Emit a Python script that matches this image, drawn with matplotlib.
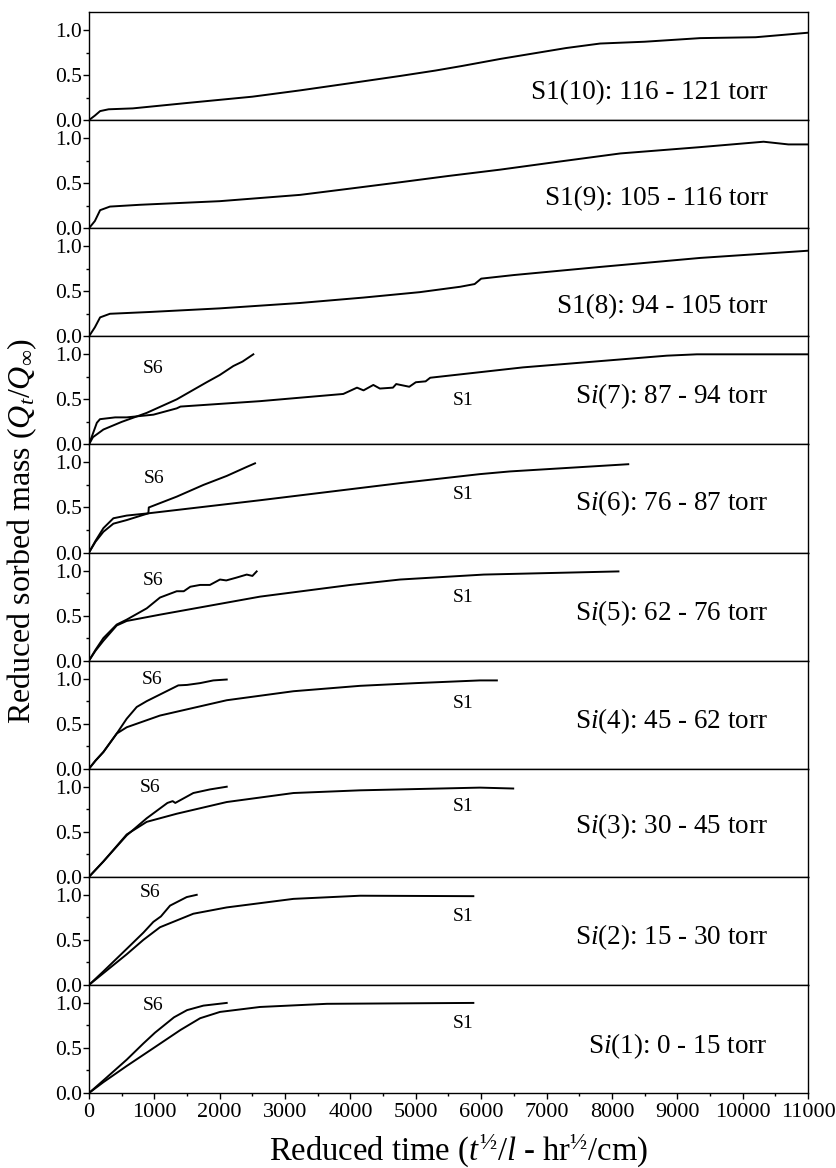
import matplotlib
matplotlib.use('Agg')
import matplotlib.pyplot as plt
from matplotlib.ticker import MultipleLocator, FormatStrFormatter

plt.rcParams['font.family'] = 'Liberation Serif'
plt.rcParams['mathtext.fontset'] = 'custom'
plt.rcParams['mathtext.rm'] = 'Liberation Serif'
plt.rcParams['mathtext.it'] = 'Liberation Serif:italic'

# panel labels, top to bottom
panel_labels = ["S1(10): 116 - 121 torr", "S1(9): 105 - 116 torr", "S1(8): 94 - 105 torr",
                "S$i$(7): 87 - 94 torr", "S$i$(6): 76 - 87 torr", "S$i$(5): 62 - 76 torr",
                "S$i$(4): 45 - 62 torr", "S$i$(3): 30 - 45 torr", "S$i$(2): 15 - 30 torr",
                "S$i$(1): 0 - 15 torr"]

# S1 curves (reduced time, reduced mass)
s1_10_x = [0, 90, 170, 300, 670, 1500, 2500, 3230, 4000, 4760, 5300, 5700, 6300, 6800, 7300, 7820, 8500, 9350, 10200, 11000]
s1_10_y = [0, 0.05, 0.10, 0.12, 0.13, 0.19, 0.26, 0.33, 0.41, 0.49, 0.55, 0.60, 0.68, 0.74, 0.80, 0.85, 0.87, 0.91, 0.92, 0.97]

s1_9_x = [0, 90, 170, 320, 780, 2000, 3230, 4000, 4760, 5500, 6290, 7200, 8130, 9350, 10320, 10700, 11000]
s1_9_y = [0, 0.08, 0.20, 0.24, 0.26, 0.30, 0.37, 0.44, 0.51, 0.58, 0.65, 0.74, 0.83, 0.90, 0.96, 0.93, 0.93]

s1_8_x = [0, 90, 170, 320, 930, 2000, 3230, 4200, 5060, 5680, 5900, 6000, 6500, 7820, 9350, 11000]
s1_8_y = [0, 0.10, 0.21, 0.25, 0.27, 0.31, 0.37, 0.43, 0.49, 0.55, 0.58, 0.64, 0.68, 0.77, 0.87, 0.95]

s1_7_x = [0, 60, 120, 168, 400, 577, 985, 1342, 1400, 2616, 3890, 3950, 4100, 4200, 4350, 4450, 4650,
          4700, 4900, 5000, 5150, 5220, 6640, 8840, 9300, 11000]
s1_7_y = [0, 0.12, 0.24, 0.28, 0.30, 0.30, 0.33, 0.40, 0.42, 0.48, 0.56, 0.58, 0.63, 0.60, 0.66, 0.62, 0.63,
          0.67, 0.64, 0.69, 0.70, 0.74, 0.855, 0.985, 1.0, 1.0]

s1_6_x = [0, 100, 220, 373, 577, 908, 2616, 4760, 5980, 6440, 8250]
s1_6_y = [0, 0.12, 0.23, 0.32, 0.36, 0.435, 0.58, 0.77, 0.87, 0.90, 0.98]

s1_5_x = [0, 100, 220, 424, 577, 1086, 2616, 4000, 4760, 6040, 8100]
s1_5_y = [0, 0.11, 0.22, 0.39, 0.44, 0.51, 0.71, 0.84, 0.90, 0.955, 0.99]

s1_4_x = [0, 100, 220, 424, 577, 1086, 2107, 3128, 4148, 5000, 5980, 6240]
s1_4_y = [0, 0.09, 0.185, 0.39, 0.46, 0.59, 0.76, 0.86, 0.92, 0.95, 0.98, 0.98]

s1_3_x = [0, 220, 577, 883, 1342, 2107, 3128, 4148, 5980, 6490]
s1_3_y = [0, 0.17, 0.47, 0.61, 0.70, 0.83, 0.93, 0.96, 0.99, 0.98]

s1_2_x = [0, 220, 577, 832, 1086, 1596, 2107, 3128, 4148, 5880]
s1_2_y = [0, 0.13, 0.34, 0.50, 0.64, 0.79, 0.86, 0.955, 0.99, 0.985]

s1_1_x = [0, 220, 577, 1010, 1400, 1700, 2004, 2616, 3640, 5880]
s1_1_y = [0, 0.12, 0.30, 0.51, 0.70, 0.83, 0.90, 0.955, 0.99, 1.0]

# S6 curves
s6_7_x = [0, 60, 220, 500, 883, 1342, 1800, 2000, 2208, 2350, 2514]
s6_7_y = [0, 0.08, 0.165, 0.25, 0.35, 0.50, 0.69, 0.77, 0.87, 0.92, 1.0]

s6_6_x = [0, 100, 220, 373, 577, 908, 915, 1342, 1750, 2107, 2413, 2540]
s6_6_y = [0, 0.13, 0.27, 0.38, 0.41, 0.435, 0.50, 0.62, 0.75, 0.85, 0.95, 0.99]

s6_5_x = [0, 100, 220, 424, 577, 883, 1086, 1342, 1450, 1550, 1700, 1850, 2004, 2100, 2250, 2413, 2500, 2565]
s6_5_y = [0, 0.12, 0.25, 0.40, 0.455, 0.58, 0.70, 0.77, 0.77, 0.82, 0.84, 0.84, 0.90, 0.89, 0.92, 0.955, 0.94, 0.99]

s6_4_x = [0, 100, 220, 424, 577, 730, 883, 1366, 1500, 1700, 1902, 2107]
s6_4_y = [0, 0.09, 0.185, 0.39, 0.555, 0.685, 0.75, 0.925, 0.93, 0.95, 0.98, 0.99]

s6_3_x = [0, 220, 577, 883, 1200, 1280, 1320, 1596, 1850, 2107]
s6_3_y = [0, 0.17, 0.46, 0.65, 0.82, 0.84, 0.82, 0.93, 0.97, 1.0]

s6_2_x = [0, 220, 577, 832, 985, 1100, 1240, 1495, 1648]
s6_2_y = [0, 0.15, 0.40, 0.58, 0.70, 0.76, 0.88, 0.975, 1.0]

s6_1_x = [0, 220, 577, 832, 1010, 1300, 1500, 1750, 2107]
s6_1_y = [0, 0.14, 0.37, 0.55, 0.67, 0.84, 0.92, 0.97, 1.0]

s1_curves = [(s1_10_x, s1_10_y), (s1_9_x, s1_9_y), (s1_8_x, s1_8_y), (s1_7_x, s1_7_y),
             (s1_6_x, s1_6_y), (s1_5_x, s1_5_y), (s1_4_x, s1_4_y), (s1_3_x, s1_3_y),
             (s1_2_x, s1_2_y), (s1_1_x, s1_1_y)]
s6_curves = [None, None, None, (s6_7_x, s6_7_y), (s6_6_x, s6_6_y), (s6_5_x, s6_5_y),
             (s6_4_x, s6_4_y), (s6_3_x, s6_3_y), (s6_2_x, s6_2_y), (s6_1_x, s6_1_y)]

# where the text sits in each panel (data y)
label_y = [0.31, 0.33, 0.33, 0.54, 0.55, 0.53, 0.53, 0.56, 0.53, 0.52]
s6_label_pos = [None, None, None, (985, 0.84), (1000, 0.82), (985, 0.89), (960, 0.99), (940, 0.99), (940, 1.03), (985, 0.97)]
s1_label_y = [None, None, None, 0.49, 0.64, 0.70, 0.72, 0.78, 0.76, 0.77]

fig, axes = plt.subplots(10, 1, figsize=(8.37, 11.68), dpi=100, sharex=True)
fig.subplots_adjust(left=89/837, right=808/837, top=1-12/1168, bottom=1-1093/1168, hspace=0)

for i, ax in enumerate(axes):
    x, y = s1_curves[i]
    ax.plot(x, y, color='k', lw=1.4)
    if s6_curves[i] is not None:
        ax.plot(s6_curves[i][0], s6_curves[i][1], color='k', lw=1.4)
        ax.text(s6_label_pos[i][0], s6_label_pos[i][1], 'S6', fontsize=14, ha='center', va='center')
        ax.text(5720, s1_label_y[i], 'S1', fontsize=14, ha='center', va='center')
    ax.text(0.944, label_y[i], panel_labels[i], transform=ax.get_yaxis_transform(),
            fontsize=19.5, ha='right', va='center')

    ax.set_xlim(0, 11000)
    ax.set_ylim(0, 1.2)
    ax.yaxis.set_major_locator(MultipleLocator(0.5))
    ax.yaxis.set_minor_locator(MultipleLocator(0.25))
    ax.yaxis.set_major_formatter(FormatStrFormatter('%.1f'))
    ax.tick_params(axis='y', which='major', direction='out', length=4, width=1, labelsize=15.5, pad=1)
    ax.tick_params(axis='y', which='minor', direction='out', length=2, width=1)
    ax.tick_params(axis='x', which='both', bottom=False, top=False)
    for sp in ax.spines.values():
        sp.set_linewidth(1.0)

ax = axes[-1]
ax.xaxis.set_major_locator(MultipleLocator(1000))
ax.xaxis.set_minor_locator(MultipleLocator(500))
ax.tick_params(axis='x', which='major', bottom=True, direction='out', length=4, width=1, labelsize=16, pad=3)
ax.tick_params(axis='x', which='minor', bottom=True, direction='out', length=2, width=1)

fig.text(0.548, 1 - 1150/1168, r"Reduced time ($t^{½}$/$l$ - hr$^{½}$/cm)", fontsize=23.5,
         ha='center', va='center')
fig.text(22/837, 0.545, r"Reduced sorbed mass ($Q_t/Q_\infty$)", fontsize=23,
         ha='center', va='center', rotation=90)

plt.savefig('out.png', dpi=100)
